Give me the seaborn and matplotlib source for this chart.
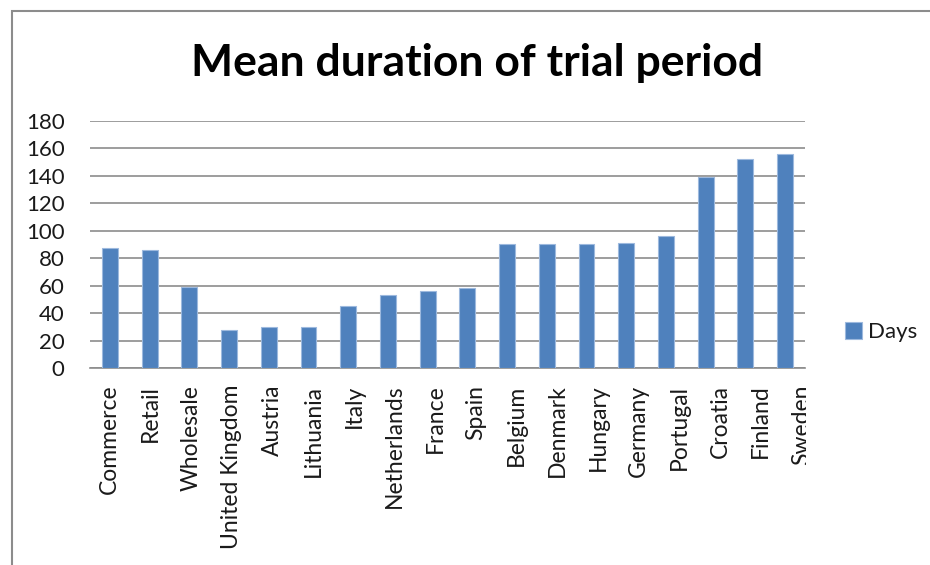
import numpy as np
import pandas as pd
import matplotlib
matplotlib.use("Agg")
import matplotlib.pyplot as plt
import seaborn as sns
from matplotlib.patches import Rectangle
from matplotlib.transforms import ScaledTranslation

# data
categories = ["Commerce", "Retail", "Wholesale", "United Kingdom", "Austria",
              "Lithuania", "Italy", "Netherlands", "France", "Spain", "Belgium",
              "Denmark", "Hungary", "Germany", "Portugal", "Croatia", "Finland",
              "Sweden"]
days = [87, 86, 59, 28, 30, 30, 45, 53, 56, 58, 90, 90, 90, 91, 96, 139, 152, 156]
yticks = [0, 20, 40, 60, 80, 100, 120, 140, 160, 180]

df = pd.DataFrame({"category": categories, "Days": days})

sns.set_style("white")
plt.rcParams["font.family"] = ["Lato", "DejaVu Sans"]

fig = plt.figure(figsize=(9.3, 5.65), dpi=100)
ax = fig.add_axes([90 / 930, 0.3487, 715 / 930, 0.4377])

sns.barplot(data=df, x="category", y="Days", color="#4F81BD", width=0.4,
            saturation=1, edgecolor="#9DB9DE", linewidth=0.8, label="Days",
            ax=ax, zorder=3)
if ax.get_legend() is not None:
    ax.get_legend().remove()

ax.set_ylim(0, 180)
ax.set_xlim(-0.5, len(categories) - 0.5)
ax.set_yticks(yticks)
ax.yaxis.grid(True, color="#8C8C8C", linewidth=1.2, zorder=0)
ax.set_axisbelow(True)
for s in ["top", "right", "left"]:
    ax.spines[s].set_visible(False)
ax.spines["bottom"].set_color("#8C8C8C")
ax.spines["bottom"].set_linewidth(1.2)
ax.set_xlabel("")
ax.set_ylabel("")

# category boundary ticks, labels without ticks
ax.set_xticks(np.arange(-0.5, len(categories)), minor=True)
ax.tick_params(axis="x", which="minor", length=6, width=1.2, color="#8C8C8C", direction="out")
ax.tick_params(axis="x", which="major", length=0, pad=12, labelsize=16.5, labelcolor="#1a1a1a")
ax.tick_params(axis="y", length=5.8, width=1.2, color="#8C8C8C", direction="out",
               pad=12.5, labelsize=16, labelcolor="#1a1a1a")
ax.set_xticks(range(len(categories)))
ax.set_xticklabels(categories, rotation=90, va="top", ha="center")

# labels in the original drift a little to the right along the axis
for i, lab in enumerate(ax.get_xticklabels()):
    lab.set_transform(lab.get_transform() + ScaledTranslation(i * 0.95 / 100, 0, fig.dpi_scale_trans))

fig.text(0.513, 0.888, "Mean duration of trial period", ha="center", va="center",
         fontsize=32, fontweight="bold", color="black")

handles, labels = ax.get_legend_handles_labels()
leg = fig.legend(handles, labels, loc="center left", bbox_to_anchor=(0.899, 0.412),
                 frameon=False, fontsize=16, handlelength=0.75, handleheight=0.75,
                 handletextpad=0.3, borderaxespad=0)
for t in leg.get_texts():
    t.set_color("#1a1a1a")

# the last label is cut at the plot area's right edge in the original
fig.patches.append(Rectangle((806 / 930, 0.0), 35 / 930, 1 - 374 / 565,
                             transform=fig.transFigure, facecolor="white",
                             edgecolor="none", zorder=5))

# chart frame
fig.patches.append(Rectangle((12 / 930, -0.1), 1.2, 1 - 11 / 565 + 0.1,
                             transform=fig.transFigure, fill=False,
                             edgecolor="#8C8C8C", linewidth=1.5, zorder=6))

fig.savefig("out.png", dpi=100)
